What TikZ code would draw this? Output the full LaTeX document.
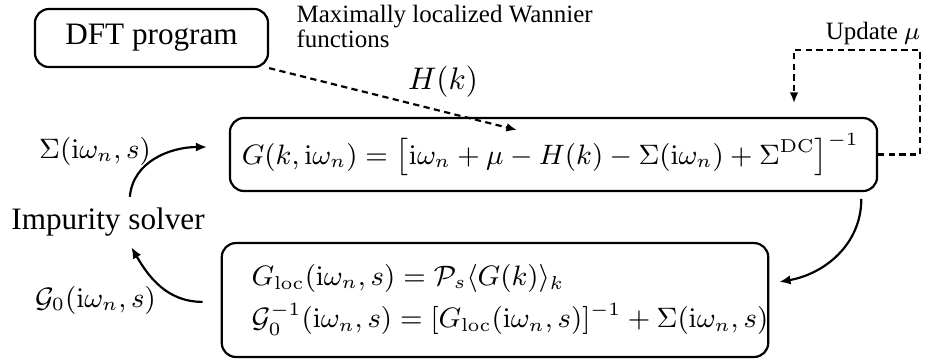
\documentclass[tikz,border=0pt]{standalone}
\usepackage[no-math]{fontspec}
\setmainfont{Liberation Serif}
\usetikzlibrary{arrows.meta}

\begin{document}
\begin{tikzpicture}[x=0.3205pt,y=-0.3205pt,
box/.style={draw,rounded corners=4.5pt,line width=0.7pt,inner sep=0pt},
small/.style={font=\fontsize{8}{8}\selectfont},
eq/.style={font=\fontsize{8.8}{12.5}\selectfont},
arrow/.style={-{Latex[length=3.6pt,width=3pt]},line width=0.7pt},
dasharrow/.style={-{Latex[length=3.4pt,width=2.8pt]},line width=0.7pt,dash pattern=on 2pt off 1.4pt}]
\useasboundingbox (0,0) rectangle (925,362);
% boxes
\node[box,minimum width=74.7pt,minimum height=18.6pt](dft) at (151.5,38){DFT program};
\node[box,font=\fontsize{9}{11}\selectfont,minimum width=207.4pt,minimum height=23.4pt](gk) at (553.5,154.5)
  {$G(k,\mathrm{i}\omega_n)=\bigl[\mathrm{i}\omega_n+\mu-H(k)-\Sigma(\mathrm{i}\omega_n)+\Sigma^{\mathrm{DC}}\bigr]^{-1}$\hspace*{2pt}};
\node[box,eq,minimum width=172.4pt,minimum height=36.5pt,align=left](gloc) at (495,300)
  {\hspace*{9.6pt}$G_{\mathrm{loc}}(\mathrm{i}\omega_n,s)=\mathcal{P}_s\langle G(k)\rangle_k$\\[1pt]
   \hspace*{9.6pt}$\mathcal{G}_0^{-1}(\mathrm{i}\omega_n,s)=[G_{\mathrm{loc}}(\mathrm{i}\omega_n,s)]^{-1}+\Sigma(\mathrm{i}\omega_n,s)$};
% labels
\node[small,anchor=north west,align=left,inner sep=0pt](wannier) at (296,5){Maximally localized Wannier\\functions};
\node(hk) at (443,82){$H(k)$};
\node[small](upd) at (873,33){Update $\mu$};
\node(imp) at (108,222){Impurity solver};
\node[eq](sig) at (95,151){$\Sigma(\mathrm{i}\omega_n,s)$};
\node[eq](gzero) at (95.5,300){$\mathcal{G}_0(\mathrm{i}\omega_n,s)$};
\coordinate(hin) at (517,130);
\coordinate(mu) at (794,103);
% connectors
\draw[dasharrow](dft.south east)--(hin);
\draw[dasharrow](gk.east)--++(42,0)|-([yshift=17pt]mu)--(mu);
\draw[arrow]([xshift=-5.4pt,yshift=-2.2pt]gk.south east) to[out=-90,in=10] ([xshift=3.2pt,yshift=5.8pt]gloc.east);
\draw[arrow]([xshift=7pt]imp.north) to[out=85,in=180] ([xshift=-7pt,yshift=2.4pt]gk.west);
\draw[arrow]([xshift=-5.8pt,yshift=-0.6pt]gloc.west) to[out=180,in=-60] ([xshift=7.5pt]imp.south);
\end{tikzpicture}
\end{document}
